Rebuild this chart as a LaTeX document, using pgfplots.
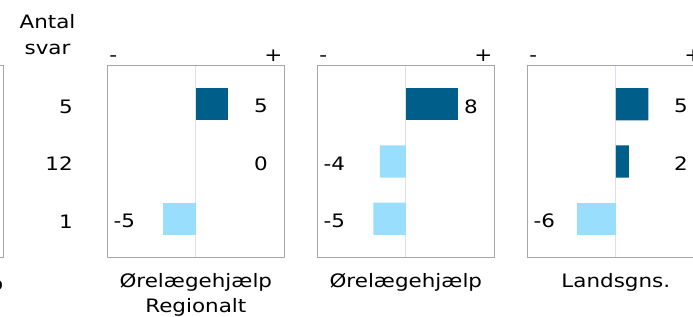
\documentclass[border=0pt]{standalone}
\usepackage{pgfplots}
\pgfplotsset{compat=1.18}
\usepackage{fontspec}
\setmainfont{DejaVu Sans}[FakeStretch=1.16]
\definecolor{darkbar}{HTML}{005E8A}
\definecolor{lightbar}{HTML}{99DFFD}
\definecolor{boxgray}{HTML}{A6A6A6}
\definecolor{midline}{HTML}{DCDCF2}
\newcommand{\fs}{\fontsize{18.5}{25}\selectfont}
\pgfplotsset{
  panel/.style={
    anchor=south west, scale only axis, width=177pt, height=191.6pt,
    xmin=-13.6, xmax=13.6, ymin=0.325, ymax=3.675, y dir=reverse,
    axis line style={draw=boxgray, line width=1.2pt},
    xtick=\empty, ytick=\empty, xbar, bar width=0.563, bar shift=0pt,
    clip=false,
  },
}
\newcommand{\panel}[5]{%
  \begin{axis}[panel, at={(#1,58.7pt)}]
    \draw[midline, line width=1pt] (axis cs:0,0.325) -- (axis cs:0,3.675);
    \addplot[fill=darkbar, draw=none] coordinates {#2};
    \addplot[fill=lightbar, draw=none] coordinates {#3};
    \addplot[draw=none, mark=none, nodes near coords, point meta=explicit symbolic,
      every node near coord/.append style={anchor=center, inner sep=0pt, yshift=-2pt, font=\fs, text=black}]
      table[meta=label, x=x, y=y, row sep=\\] {#4};
    \node[anchor=base west, inner sep=0pt, font=\fs] at (rel axis cs:0.01,1.0245) {-};
    \node[anchor=base east, inner sep=0pt, font=\fs] at (rel axis cs:0.99,1.0245) {+};
    \node[anchor=north, align=center, inner sep=0pt, font=\fs] at (rel axis cs:0.5,-0.083) {#5};
  \end{axis}}
\begin{document}
\begin{tikzpicture}[x=1pt,y=1pt,font=\fs]
\useasboundingbox (0,0) rectangle (693,316);
\clip (0,0) rectangle (693,316);
% partial panel at left
\begin{axis}[panel, at={(-173.7pt,58.7pt)}]
  \addplot[draw=none] coordinates {(0,2)};
\end{axis}
\node[anchor=base east, inner sep=0pt] at (3.5,26) {o};
% Antal svar column
\node[anchor=base, inner sep=0pt] at (47.5,287.7) {Antal};
\node[anchor=base, inner sep=0pt] at (47.5,261) {svar};
\node[anchor=east, inner sep=0pt] at (73,209.5) {5};
\node[anchor=east, inner sep=0pt] at (73,152) {12};
\node[anchor=east, inner sep=0pt] at (73,94.5) {1};
\panel{107.3pt}{(5,1)}{(-5,3)}{x y label\\ 10 1 5\\ 10 2 0\\ -11 3 -5\\}{Ørelægehjælp\\Regionalt}
\panel{317.3pt}{(8,1)}{(-4,2) (-5,3)}{x y label\\ 10 1 8\\ -11 2 -4\\ -11 3 -5\\}{Ørelægehjælp}
\panel{527.3pt}{(5,1) (2,2)}{(-6,3)}{x y label\\ 10 1 5\\ 10 2 2\\ -11 3 -6\\}{Landsgns.}
\end{tikzpicture}
\end{document}
